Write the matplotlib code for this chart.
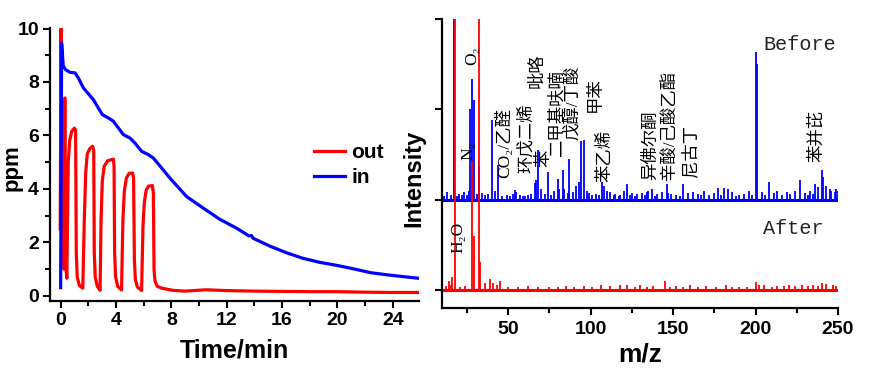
import matplotlib
matplotlib.use('Agg')
import matplotlib.pyplot as plt
from matplotlib.ticker import MultipleLocator

plt.rcParams['font.family'] = ['Liberation Sans', 'Noto Sans CJK SC']
plt.rcParams['font.weight'] = 'bold'

# ---- 左图: 浓度-时间 ----
t_in = [0.0, 0.07, 0.19, 0.36, 0.67, 1.04, 1.28, 1.64, 2.0, 2.36, 2.72, 3.01, 3.45, 3.81,
        4.17, 4.53, 5.01, 5.37, 5.86, 6.34, 6.7, 7.3, 7.9, 9.1, 10.3, 11.5, 12.7, 13.6,
        13.8, 13.9, 15.1, 16.3, 17.5, 18.7, 20.0, 21.2, 22.4, 23.6, 24.8, 25.9]
ppm_in = [0.3, 9.45, 8.59, 8.46, 8.36, 8.34, 8.15, 7.78, 7.56, 7.34, 7.03, 6.78, 6.65, 6.53,
          6.28, 6.03, 5.9, 5.71, 5.4, 5.28, 5.15, 4.78, 4.4, 3.71, 3.28, 2.86, 2.53, 2.24,
          2.25, 2.15, 1.86, 1.61, 1.4, 1.25, 1.13, 1.0, 0.86, 0.78, 0.71, 0.65]

t_out = [-0.03, 0.03, 0.12, 0.22, 0.3, 0.38, 0.45, 0.5, 0.55, 0.65, 0.8, 0.99, 1.08,
         1.13, 1.2, 1.35, 1.6, 1.71, 1.81, 1.92, 2.1, 2.31, 2.39, 2.43, 2.5, 2.65, 2.85,
         2.92, 3.01, 3.15, 3.4, 3.81, 3.86, 3.9, 3.97, 4.12, 4.4, 4.5, 4.6, 4.75, 4.95,
         5.2, 5.27, 5.33, 5.4, 5.55, 5.85, 5.95, 6.05, 6.18, 6.35, 6.63, 6.7, 6.75, 6.82,
         6.98, 7.3, 8.1, 9.0, 10.5, 12.0, 14.0, 16.0, 18.0, 20.0, 22.0, 24.0, 25.9]
ppm_out = [2.5, 10.0, 1.2, 1.0, 7.4, 1.0, 0.65, 3.0, 5.0, 5.8, 6.15, 6.27, 6.2,
           1.6, 0.7, 0.38, 0.28, 2.84, 4.6, 5.3, 5.5, 5.59, 5.46, 1.6, 0.7, 0.35, 0.2,
           2.84, 4.3, 4.85, 5.05, 5.11, 4.84, 1.6, 0.7, 0.35, 0.21, 2.84, 3.9, 4.4, 4.58,
           4.59, 4.4, 1.34, 0.6, 0.32, 0.19, 2.59, 3.5, 3.95, 4.1, 4.12, 3.84, 0.96, 0.55,
           0.35, 0.28, 0.2, 0.17, 0.22, 0.19, 0.17, 0.16, 0.15, 0.15, 0.13, 0.12, 0.12]

# ---- 右图: 质谱 (m/z, 峰高) ----
before_mz = [11, 13, 15, 17, 19, 20, 22, 23, 25, 26, 27, 28, 29, 31, 32, 34, 36, 38, 40,
             42, 44, 46, 49, 51, 53, 54, 55, 57, 59, 60, 62, 64, 66, 67, 68, 70, 72, 74,
             76, 78, 80, 81, 83, 84, 86, 87, 89, 91, 93, 94, 96, 98, 99, 101, 103, 105,
             107, 108, 110, 112, 114, 115, 117, 118, 120, 122, 124, 125, 127, 128, 131,
             133, 134, 135, 137, 139, 140, 143, 146, 147, 149, 152, 154, 156, 159, 162,
             165, 167, 169, 172, 175, 177, 179, 181, 183, 186, 188, 190, 193, 196, 198,
             200, 201, 204, 206, 208, 211, 213, 216, 219, 221, 224, 227, 230, 232, 233,
             235, 236, 238, 240, 241, 243, 245, 246, 248, 249, 250]
before_h = [0.04, 0.08, 0.05, 2.5, 0.04, 0.06, 0.05, 0.08, 0.05, 0.1, 1.0, 1.34, 1.1, 0.06,
            0.37, 0.07, 0.05, 0.06, 0.88, 0.1, 0.38, 0.04, 0.05, 0.04, 0.06, 0.11, 0.08,
            0.05, 0.04, 0.04, 0.05, 0.06, 0.18, 0.22, 0.55, 0.12, 0.06, 0.31, 0.05, 0.1,
            0.23, 0.12, 0.33, 0.12, 0.07, 0.45, 0.08, 0.15, 0.19, 0.65, 0.66, 0.1, 0.07,
            0.05, 0.06, 0.05, 0.19, 0.15, 0.1, 0.08, 0.05, 0.06, 0.04, 0.05, 0.09, 0.17,
            0.05, 0.07, 0.04, 0.06, 0.07, 0.05, 0.08, 0.1, 0.12, 0.04, 0.06, 0.08, 0.17,
            0.07, 0.06, 0.05, 0.04, 0.17, 0.07, 0.08, 0.06, 0.05, 0.1, 0.05, 0.07, 0.13,
            0.05, 0.13, 0.12, 0.08, 0.04, 0.05, 0.06, 0.09, 0.05, 1.64, 1.5, 0.08, 0.05,
            0.19, 0.07, 0.1, 0.05, 0.08, 0.06, 0.09, 0.22, 0.07, 0.05, 0.1, 0.06, 0.17,
            0.14, 0.33, 0.25, 0.15, 0.12, 0.1, 0.08, 0.12, 0.1]

after_mz = [12, 14, 15, 16, 18, 21, 24, 28, 29, 32, 33, 36, 39, 41, 43, 45, 50, 56, 62,
            68, 75, 80, 85, 90, 96, 101, 106, 112, 118, 122, 127, 130, 134, 138, 145, 148,
            152, 156, 160, 165, 170, 176, 182, 186, 190, 195, 200, 202, 205, 210, 213, 217,
            220, 224, 228, 232, 235, 238, 240, 243, 247, 249]
after_h = [0.04, 0.1, 0.05, 0.14, 4.0, 0.03, 0.04, 1.42, 0.6, 4.0, 0.31, 0.08, 0.12, 0.08,
           0.05, 0.1, 0.03, 0.03, 0.04, 0.03, 0.03, 0.03, 0.04, 0.03, 0.04, 0.03, 0.05,
           0.04, 0.06, 0.05, 0.03, 0.05, 0.03, 0.04, 0.1, 0.03, 0.04, 0.03, 0.05, 0.03,
           0.04, 0.03, 0.06, 0.03, 0.03, 0.03, 0.09, 0.05, 0.05, 0.03, 0.04, 0.04, 0.05,
           0.04, 0.06, 0.04, 0.05, 0.04, 0.08, 0.07, 0.05, 0.04]

# 标注 (文字, m/z 位置, 纵坐标)
label_text = ['N₂', 'O₂', 'H₂O', 'CO₂/乙醛', '环戊二烯', '吡咯', '苯', '二甲基呋喃',
              '戊醇/丁酸', '甲苯', '苯乙烯', '异佛尔酮', '辛酸/己酸乙酯', '尼古丁', '苯并芘']
label_x = [25.9, 27.9, 19.8, 47.8, 61.1, 67.8, 72.0, 80.0, 89.0, 103.0, 109.0, 136.4, 148.0,
           160.7, 237.2]
label_y = [1.44, 2.49, 0.41, 1.24, 1.30, 2.24, 1.36, 1.47, 1.66, 1.97, 1.20, 1.22, 1.22,
           1.25, 1.42]

RED = '#ff0000'
BLUE = '#0000ff'
W, H = 871, 368


def style_axis(ax):
    for side in ['top', 'right']:
        ax.spines[side].set_visible(False)
    for side in ['left', 'bottom']:
        ax.spines[side].set_linewidth(1.6)
    ax.tick_params(which='major', direction='out', length=5, width=1.5, labelsize=14, pad=3)
    ax.tick_params(which='minor', direction='out', length=3.5, width=1.5)
    for lab in ax.get_xticklabels() + ax.get_yticklabels():
        lab.set_fontweight('bold')


fig = plt.figure(figsize=(W / 100, H / 100), dpi=100)

# ---- 左图 ----
ax1 = fig.add_axes([50 / W, 67 / H, 369 / W, 273 / H])
ax1.plot(t_out, ppm_out, color=RED, lw=2.3, label='out')
ax1.plot(t_in, ppm_in, color=BLUE, lw=2.3, label='in')
ax1.set_xlim(-0.77, 25.9)
ax1.set_ylim(-0.2, 10.02)
ax1.xaxis.set_major_locator(MultipleLocator(4))
ax1.xaxis.set_minor_locator(MultipleLocator(2))
ax1.yaxis.set_major_locator(MultipleLocator(2))
ax1.yaxis.set_minor_locator(MultipleLocator(1))
style_axis(ax1)
ax1.legend(loc='upper left', bbox_to_anchor=(314 / W, 1 - 143 / H), bbox_transform=fig.transFigure,
           frameon=False, prop={'size': 15, 'weight': 'bold'}, handlelength=1.5,
           handletextpad=0.3, labelspacing=0.3, borderpad=0, borderaxespad=0)

# ---- 右图 ----
ax2 = fig.add_axes([442.3 / W, 60 / H, 395.7 / W, 289 / H])
ax2.hlines(1, 10, 250, color=BLUE, lw=2.2)
ax2.vlines(before_mz, 1, [1 + h for h in before_h], color=BLUE, lw=1.3)
ax2.hlines(0, 10, 250, color=RED, lw=2.2)
ax2.vlines(after_mz, 0, after_h, color=RED, lw=1.3)
ax2.set_xlim(10, 250)
ax2.set_ylim(-0.2, 3.0)
ax2.xaxis.set_major_locator(MultipleLocator(50))
ax2.xaxis.set_minor_locator(MultipleLocator(25))
ax2.set_yticks([0, 1, 2, 3])
ax2.set_yticklabels([])
style_axis(ax2)
ax2.tick_params(axis='x', pad=4)

for txt, x, y in zip(label_text, label_x, label_y):
    ax2.text(x, y, txt, rotation=90, ha='center', va='bottom', fontsize=12.5,
             fontweight='normal', family=['Liberation Serif', 'Noto Sans CJK SC'],
             linespacing=1.0)

ax2.text(763, H - 45, 'Before', transform=None, fontsize=14.5, family='Liberation Mono',
         fontweight='normal', color='#222222', va='center', ha='left')
ax2.text(763, H - 228, 'After', transform=None, fontsize=14.5, family='Liberation Mono',
         fontweight='normal', color='#222222', va='center', ha='left')

# ---- 轴标题 ----
fig.text(12 / W, 1 - 168 / H, 'ppm', rotation=90, ha='center', va='center', fontsize=16,
         fontweight='bold')
fig.text(414 / W, 1 - 178 / H, 'Intensity', rotation=90, ha='center', va='center', fontsize=17,
         fontweight='bold')
fig.text(234 / W, 1 - 358 / H, 'Time/min', ha='center', va='baseline', fontsize=18,
         fontweight='bold')
fig.text(640 / W, 1 - 362 / H, 'm/z', ha='center', va='baseline', fontsize=19,
         fontweight='bold')

fig.savefig('out.png', dpi=100)
